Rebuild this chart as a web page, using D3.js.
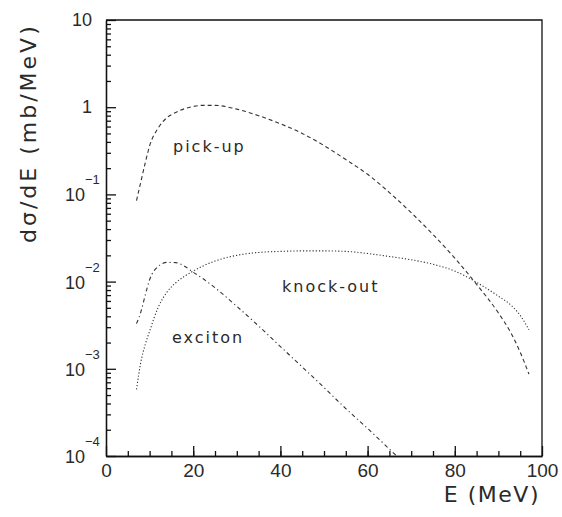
<!DOCTYPE html>
<meta charset="utf-8">
<head>
  <title>dsigma/dE</title>
  <script src="https://cdn.jsdelivr.net/npm/d3@7"></script>
  <style>
    body { margin: 0; background: #fff; }
    text { fill: #2a2a2a; font-family: "Liberation Sans", Arial, sans-serif; }
  </style>
</head>
<body>
<script>
// data
var energy  = [7, 8, 9, 10, 12, 14, 16, 18, 20, 22, 25, 30, 35, 40, 45, 50, 55, 60, 65, 70, 75, 80, 85, 90, 93, 95, 97]
var pickUp  = [0.085, 0.14, 0.23, 0.36, 0.58, 0.76, 0.87, 0.96, 1.02, 1.05, 1.05, 0.95, 0.80, 0.645, 0.50, 0.363, 0.251, 0.17, 0.105, 0.0617, 0.0347, 0.0186, 0.0093, 0.00437, 0.00251, 0.00155, 0.00087]
var knockOut = [0.00058, 0.0012, 0.0019, 0.0027, 0.0051, 0.0076, 0.0097, 0.0115, 0.0132, 0.0149, 0.0172, 0.0200, 0.0216, 0.0222, 0.0225, 0.0225, 0.0222, 0.0210, 0.0194, 0.0178, 0.0158, 0.0132, 0.0098, 0.0068, 0.0053, 0.0041, 0.0028]
var exciton = [0.0033, 0.0045, 0.0070, 0.0105, 0.0150, 0.0166, 0.0165, 0.0150, 0.0128, 0.0110, 0.0085, 0.0052, 0.0031, 0.0018, 0.00105, 0.00061, 0.00035, 0.000207, 0.00012, 0.00007, null, null, null, null, null, null, null]
var xTicks = [0, 20, 40, 60, 80, 100]
var yDecades = [10, 1, 0.1, 0.01, 0.001, 0.0001]

var w = 562, h = 517
var pL = 106, pR = 542, pT = 20, pB = 456

var svg = d3.select("body").append("svg").attr("width", w).attr("height", h)

var x = d3.scaleLinear().domain([0, 100]).range([pL, pR])
var y = d3.scaleLog().domain([1e-4, 10]).range([pB, pT])

// minor ticks
var yMinor = []
for (var p = -4; p < 1; p++) for (var k = 2; k < 10; k++) yMinor.push(k * Math.pow(10, p))

svg.append("g")
  .attr("transform", "translate(" + pL + ",0)")
  .call(d3.axisRight(y).tickValues(yMinor).tickSize(5).tickSizeOuter(0).tickFormat(""))
svg.append("g")
  .attr("transform", "translate(" + pL + ",0)")
  .call(d3.axisRight(y).tickValues(yDecades).tickSize(10).tickSizeOuter(0).tickFormat(""))
svg.append("g")
  .attr("transform", "translate(0," + pB + ")")
  .call(d3.axisBottom(x).tickValues(d3.range(5, 100, 5)).tickSize(-5).tickSizeOuter(0).tickFormat(""))
svg.append("g")
  .attr("transform", "translate(0," + pB + ")")
  .call(d3.axisBottom(x).tickValues(xTicks).tickSize(-10).tickSizeOuter(0).tickPadding(8).tickFormat(d3.format("d")))
  .selectAll("text").style("font-size", "19px").style("fill", "#2a2a2a").style("font-family", "Liberation Sans")

svg.selectAll(".domain, .tick line").attr("stroke", "#111").attr("stroke-width", 1.3)

// frame top / right
svg.append("path")
  .attr("d", "M" + pL + "," + pT + "H" + pR + "V" + pB)
  .attr("fill", "none").attr("stroke", "#111").attr("stroke-width", 1.3)

// y labels
yDecades.forEach(function (v) {
  var e = Math.round(Math.log10(v))
  if (e >= 0) {
    svg.append("text").attr("x", 92).attr("y", y(v) + 6)
      .attr("text-anchor", "end").style("font-size", "18px")
      .text(e == 1 ? "10" : "1")
  } else {
    svg.append("text").attr("x", 85).attr("y", y(v) + 7)
      .attr("text-anchor", "end").style("font-size", "18px").text("10")
    svg.append("text").attr("x", 85).attr("y", y(v) - 10)
      .style("font-size", "13px").text("\u2212" + (-e))
  }
})

// axis titles
svg.append("text").attr("x", 540).attr("y", 502).attr("text-anchor", "end")
  .style("font-family", "DejaVu Sans").style("font-size", "22px").style("letter-spacing", "1.5px")
  .text("E (MeV)")
svg.append("text").attr("transform", "translate(36,243) rotate(-90)")
  .style("font-family", "DejaVu Sans").style("font-size", "22px").style("letter-spacing", "3px")
  .text("d\u03c3/dE (mb/MeV)")

// curves
svg.append("clipPath").attr("id", "plot").append("rect")
  .attr("x", pL).attr("y", pT).attr("width", pR - pL).attr("height", pB - pT)

function drawCurve(vals, dash) {
  var line = d3.line()
    .defined(function (d, i) { return vals[i] != null })
    .x(function (d, i) { return x(energy[i]) })
    .y(function (d, i) { return y(vals[i]) })
    .curve(d3.curveMonotoneX)
  svg.append("path").datum(vals)
    .attr("clip-path", "url(#plot)")
    .attr("d", line)
    .attr("fill", "none").attr("stroke", "#333").attr("stroke-width", 1.1)
    .attr("stroke-dasharray", dash)
}
drawCurve(pickUp, "4,3")
drawCurve(knockOut, "1.2,2")
drawCurve(exciton, "4,3,1.2,3")

// curve labels
var labels = [["pick-up", 173, 152], ["knock-out", 282, 292], ["exciton", 172, 343]]
labels.forEach(function (l) {
  svg.append("text").attr("x", l[1]).attr("y", l[2])
    .style("font-family", "DejaVu Sans").style("font-size", "16px").style("letter-spacing", "2px")
    .text(l[0])
})
</script>
</body>
</html>
